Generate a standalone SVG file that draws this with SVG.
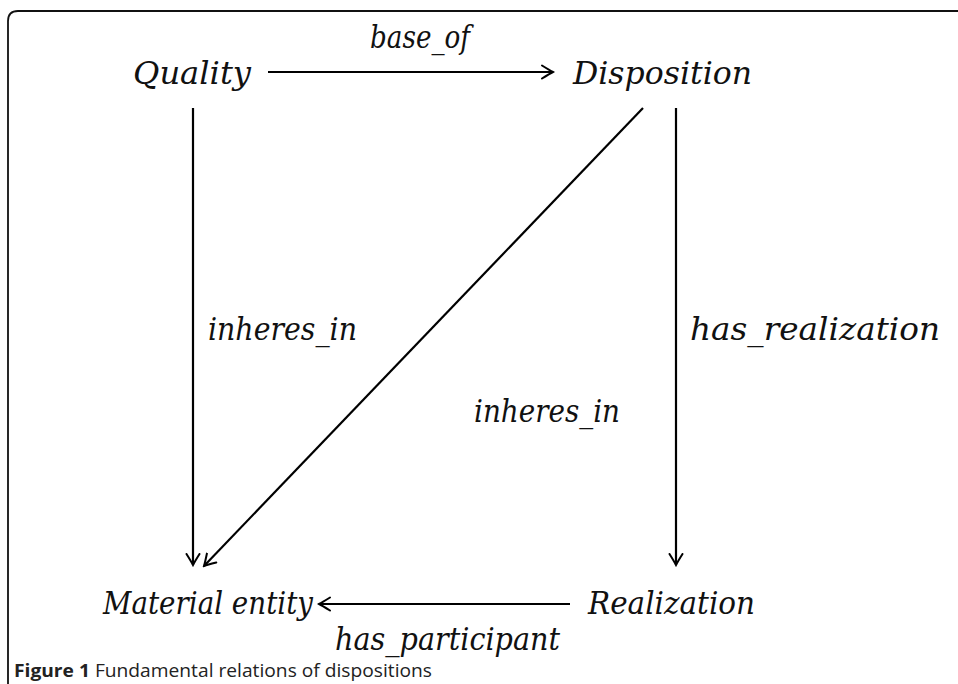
<svg xmlns="http://www.w3.org/2000/svg" width="958" height="684" viewBox="0 0 958 684">
<defs>
<style>
.lbl{font-family:'DejaVu Serif','Liberation Serif',serif;font-style:italic;font-size:31px;fill:#111}
.edge{stroke:#000;stroke-width:2.2;fill:none}
.cap{font-family:'Open Sans','Liberation Sans',sans-serif;font-size:18px;fill:#222}
</style>
<marker id="arr" viewBox="-12 -8 14 16" refX="0" refY="0" markerWidth="14" markerHeight="16" markerUnits="userSpaceOnUse" orient="auto">
<path d="M-11,-6.5 Q-3,-1.5 0,0 Q-3,1.5 -11,6.5" fill="none" stroke="#000" stroke-width="2" stroke-linecap="round"/>
</marker>
</defs>
<rect width="958" height="684" fill="#fff"/>
<path d="M8,690 V21 Q8,11 18,11 H965" fill="none" stroke="#111" stroke-width="1.8"/>
<g id="connectors">
<line class="edge" x1="268" y1="72" x2="553" y2="72" marker-end="url(#arr)"/>
<line class="edge" x1="193" y1="108" x2="193" y2="565" marker-end="url(#arr)"/>
<line class="edge" x1="676" y1="108" x2="676" y2="565" marker-end="url(#arr)"/>
<line class="edge" x1="643" y1="108" x2="204" y2="566" marker-end="url(#arr)"/>
<line class="edge" x1="570" y1="604" x2="319" y2="604" marker-end="url(#arr)"/>
<text class="lbl" x="370" y="48" textLength="100" lengthAdjust="spacingAndGlyphs">base_of</text>
<text class="lbl" x="208" y="340" textLength="149" lengthAdjust="spacingAndGlyphs">inheres_in</text>
<text class="lbl" x="474" y="422" textLength="146" lengthAdjust="spacingAndGlyphs">inheres_in</text>
<text class="lbl" x="690" y="340" textLength="250" lengthAdjust="spacingAndGlyphs">has_realization</text>
<text class="lbl" x="335" y="650" textLength="225" lengthAdjust="spacingAndGlyphs">has_participant</text>
</g>
<g id="quality"><text class="lbl" x="133" y="84" textLength="118" lengthAdjust="spacingAndGlyphs">Quality</text></g>
<g id="disposition"><text class="lbl" x="573" y="84" textLength="179" lengthAdjust="spacingAndGlyphs">Disposition</text></g>
<g id="material-entity"><text class="lbl" x="103" y="614" textLength="210" lengthAdjust="spacingAndGlyphs">Material entity</text></g>
<g id="realization"><text class="lbl" x="588" y="614" textLength="167" lengthAdjust="spacingAndGlyphs">Realization</text></g>
<text class="cap" x="14" y="677" textLength="418" lengthAdjust="spacingAndGlyphs"><tspan font-weight="bold">Figure 1</tspan> Fundamental relations of dispositions</text>
</svg>
